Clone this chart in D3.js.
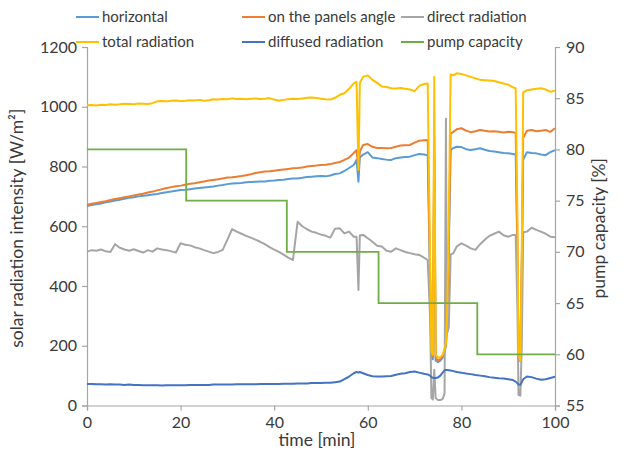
<!DOCTYPE html>
<html>
<head>
<meta charset="utf-8">
<script src="https://cdn.jsdelivr.net/npm/d3@7"></script>
<style>
  html, body { margin: 0; padding: 0; background: #ffffff; }
  svg { display: block; font-family: Lato, "Open Sans", sans-serif; }
</style>
</head>
<body>
<svg id="chart" width="622" height="452"></svg>
<script>
// ---- data ----
const times = [
  0,1,2,3,4,5,6,7,8,9,10,11,12,13,14,15,16,17,18,19,20,21,22,23,24,25,26,27,28,29,
  30,31,32,33,34,35,36,37,38,39,40,41,42,43,44,45,46,47,48,49,50,51,52,53,54,55,56,57,
  57.6,58,58.3,59,60,61,62,63,64,65,66,67,68,69,70,71,72,
  72.8,73.3,73.6,73.9,74.2,74.5,75,75.5,76,76.4,76.7,76.9,77.3,77.7,
  78.3,79,80,81,82,83,84,85,86,87,88,89,90,91,
  91.6,92,92.2,92.6,92.9,93.2,
  94,95,96,97,98,99,100
];

const horizontal = [
  668,671,674,676,680,683,686,689,692,695,697,700,702,704,706,708,711,714,716,719,
  721,722,724,726,728,730,731,733,736,738,741,743,744,745,747,748,749,750,750,752,
  753,755,756,758,760,760,762,765,766,767,768,767,770,775,777,785,795,805,
  822,749,830,840,848,830,828,825,823,822,828,830,832,833,838,842,840,
  838,420,160,155,840,150,145,150,160,180,200,260,520,855,
  862,866,865,858,855,858,861,856,852,850,848,845,844,842,
  840,480,160,148,460,822,
  848,845,844,840,838,848,855
];

const panelsAngle = [
  672,675,678,681,684,688,691,694,697,700,703,706,709,713,716,720,724,728,731,734,
  736,739,742,744,747,750,753,755,757,760,763,764,766,768,771,774,778,781,783,784,
  786,788,790,792,794,795,797,800,802,803,805,806,808,812,815,822,830,845,
  855,790,850,872,875,866,862,862,861,862,866,870,871,872,880,886,888,
  889,450,170,165,900,160,150,155,165,185,205,270,550,910,
  916,925,928,920,915,918,922,920,917,918,916,914,916,915,
  912,500,165,150,480,895,
  920,922,918,920,922,916,928
];

const direct = [
  515,520,518,522,516,514,540,528,522,518,523,517,512,520,515,526,522,520,516,512,
  543,538,536,530,526,520,515,510,514,521,555,590,582,575,568,562,555,548,540,530,
  522,514,505,495,487,615,600,590,582,578,572,568,562,592,593,576,582,565,
  565,387,570,571,560,548,535,532,518,515,526,520,514,510,506,504,495,
  487,300,25,20,120,25,18,18,22,40,960,240,260,505,
  510,532,543,535,526,521,540,555,568,575,582,570,565,571,
  571,300,35,33,200,580,
  582,595,588,582,575,565,563
];

const total = [
  1005,1006,1004,1007,1006,1008,1007,1008,1010,1009,1008,1011,1010,1009,1012,1018,1019,1018,1020,1021,
  1019,1020,1022,1021,1023,1020,1022,1025,1024,1026,1025,1028,1026,1027,1025,1027,1028,1026,1027,1029,
  1024,1020,1023,1025,1027,1026,1028,1030,1031,1029,1027,1025,1024,1030,1040,1045,1060,1078,
  1083,788,1080,1100,1105,1090,1080,1068,1066,1062,1061,1063,1060,1058,1052,1070,1076,
  1078,500,180,170,1100,170,160,162,170,190,210,280,620,1108,
  1105,1112,1110,1105,1100,1095,1090,1089,1088,1086,1082,1078,1074,1065,
  1062,600,170,150,500,1048,
  1055,1058,1060,1062,1058,1050,1054
];

const diffused = [
  72,72,71,71,70,71,70,70,69,70,69,69,68,68,68,68,67,68,68,68,
  68,68,69,69,69,69,69,70,70,70,70,70,71,71,71,71,71,72,72,72,
  72,72,73,73,73,74,74,74,75,75,75,76,76,78,80,88,97,108,
  112,110,112,108,102,98,97,97,98,99,103,106,108,112,114,110,106,
  104,100,95,93,92,92,94,100,110,118,119,119,118,117,
  115,112,110,107,105,102,100,98,95,93,91,90,88,85,
  80,74,70,69,78,88,
  97,95,90,86,88,92,96
];

const pumpTimes = [0, 21.2, 42.7, 62.3, 83.4, 100];
const pumpCapacity = [80, 75, 70, 65, 60, 60];

const xTicks = [0, 20, 40, 60, 80, 100];
const leftTicks = [0, 200, 400, 600, 800, 1000, 1200];
const rightTicks = [55, 60, 65, 70, 75, 80, 85, 90];

const seriesNames = ["horizontal", "on the panels angle", "direct radiation",
                     "total radiation", "diffused radiation", "pump capacity"];
const seriesColors = ["#5B9BD5", "#ED7D31", "#A5A5A5", "#FFC000", "#4472C4", "#70AD47"];

// ---- drawing ----
const svg = d3.select("#chart");
const plot = { left: 87, right: 555, top: 47, bottom: 405.5 };

const x = d3.scaleLinear().domain([0, 100]).range([plot.left, plot.right]);
const yL = d3.scaleLinear().domain([0, 1200]).range([plot.bottom, plot.top]);
const yR = d3.scaleLinear().domain([55, 90]).range([plot.bottom, plot.top]);

const axisColor = "#A6A6A6";
const textColor = "#3a3a3a";
const fmt = d3.format("d");

function styleAxis(g) {
  g.selectAll("path.domain").attr("stroke", axisColor).attr("stroke-width", 1.2);
  g.selectAll(".tick line").attr("stroke", axisColor).attr("stroke-width", 1.2);
  g.selectAll(".tick text").attr("fill", textColor).style("font-size", "16px")
    .style("font-family", "Lato, 'Open Sans', sans-serif");
}

const gx = svg.append("g").attr("transform", `translate(0,${plot.bottom})`)
  .call(d3.axisBottom(x).tickValues(xTicks).tickFormat(fmt).tickSizeOuter(0).tickSize(5).tickPadding(6));
styleAxis(gx);

const gyL = svg.append("g").attr("transform", `translate(${plot.left},0)`)
  .call(d3.axisLeft(yL).tickValues(leftTicks).tickFormat(fmt).tickSizeOuter(0).tickSize(5).tickPadding(5));
styleAxis(gyL);

const gyR = svg.append("g").attr("transform", `translate(${plot.right},0)`)
  .call(d3.axisRight(yR).tickValues(rightTicks).tickFormat(fmt).tickSizeOuter(0).tickSize(5).tickPadding(6));
styleAxis(gyR);

// lines
const seriesData = [horizontal, panelsAngle, direct, total, diffused];
const lineL = d3.line().x((d, i) => x(times[i])).y(d => yL(d));
seriesData.forEach((vals, k) => {
  svg.append("path")
    .datum(vals)
    .attr("fill", "none")
    .attr("stroke", seriesColors[k])
    .attr("stroke-width", 2)
    .attr("stroke-linejoin", "round")
    .attr("d", lineL);
});

const lineR = d3.line().x((d, i) => x(pumpTimes[i])).y(d => yR(d)).curve(d3.curveStepAfter);
svg.append("path")
  .datum(pumpCapacity)
  .attr("fill", "none")
  .attr("stroke", seriesColors[5])
  .attr("stroke-width", 1.8)
  .attr("d", lineR);

// axis titles
svg.append("text")
  .attr("transform", `translate(23,${(plot.top + plot.bottom) / 2 + 2}) rotate(-90)`)
  .attr("text-anchor", "middle")
  .attr("fill", textColor)
  .style("font-size", "17.5px")
  .text("solar radiation intensity [W/m²]");

svg.append("text")
  .attr("transform", `translate(605,${(plot.top + plot.bottom) / 2 + 2}) rotate(-90)`)
  .attr("text-anchor", "middle")
  .attr("fill", textColor)
  .style("font-size", "17.5px")
  .text("pump capacity [%]");

svg.append("text")
  .attr("x", 317)
  .attr("y", 446)
  .attr("text-anchor", "middle")
  .attr("fill", textColor)
  .style("font-size", "17.5px")
  .text("time [min]");

// legend
const legendX = [76, 242, 401];
const legendY = [17, 42];
seriesNames.forEach((name, i) => {
  const col = i % 3, row = Math.floor(i / 3);
  const g = svg.append("g").attr("transform", `translate(${legendX[col]},${legendY[row]})`);
  g.append("line").attr("x1", 0).attr("x2", 23).attr("y1", 0).attr("y2", 0)
    .attr("stroke", seriesColors[i]).attr("stroke-width", 2);
  g.append("text").attr("x", 26).attr("y", 0).attr("dy", "0.35em")
    .attr("fill", textColor).style("font-size", "15px").text(name);
});
</script>
</body>
</html>
